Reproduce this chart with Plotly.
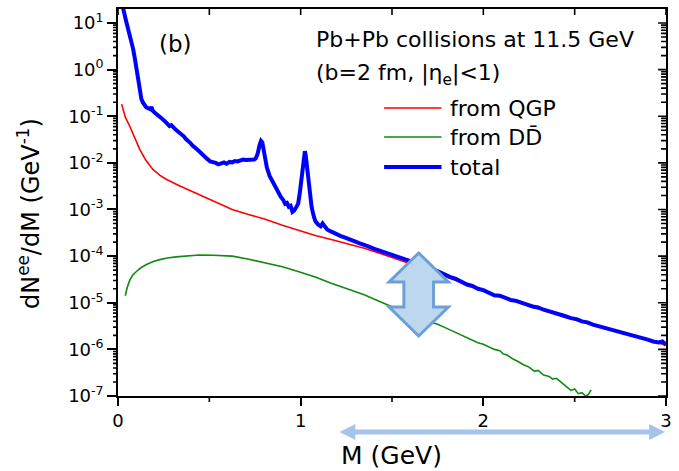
import math
import plotly.graph_objects as go

# ---------------- data: dielectron invariant-mass spectra ----------------
# M in GeV, values given as log10(dN/dM)
m_qgp = [0.02, 0.04, 0.065, 0.09, 0.119, 0.15, 0.191, 0.23, 0.264, 0.33, 0.40, 0.444,
         0.53, 0.625, 0.71, 0.806, 0.90, 0.986, 1.08, 1.167, 1.26, 1.348, 1.44, 1.528,
         1.62, 1.72, 1.80, 1.908, 2.0, 2.088, 2.18, 2.269, 2.36, 2.45, 2.54, 2.63,
         2.72, 2.81, 2.90, 3.0]
log_qgp = [-0.74, -1.02, -1.22, -1.46, -1.71, -1.93, -2.14, -2.27, -2.35, -2.48, -2.60, -2.68,
           -2.84, -3.00, -3.10, -3.21, -3.34, -3.45, -3.56, -3.645, -3.74, -3.83, -3.95, -4.06,
           -4.19, -4.33, -4.45, -4.62, -4.75, -4.87, -4.99, -5.09, -5.20, -5.30, -5.41, -5.52,
           -5.61, -5.70, -5.80, -5.91]

m_dd = [0.04, 0.05, 0.065, 0.08, 0.101, 0.125, 0.156, 0.19, 0.228, 0.27, 0.318, 0.38,
        0.444, 0.52, 0.625, 0.71, 0.806, 0.90, 0.986, 1.08, 1.167, 1.26, 1.348, 1.42,
        1.49, 1.55, 1.60, 1.65, 1.70, 1.75, 1.80, 1.85, 1.88, 1.91, 1.94, 1.97, 2.00,
        2.03, 2.06, 2.09, 2.11, 2.13, 2.16, 2.19, 2.22, 2.25, 2.28, 2.30, 2.33, 2.36,
        2.38, 2.40, 2.43, 2.46, 2.48, 2.50, 2.52, 2.54, 2.56, 2.575, 2.585, 2.59]
log_dd = [-4.85, -4.68, -4.51, -4.41, -4.33, -4.25, -4.18, -4.12, -4.075, -4.04, -4.017, -3.99,
          -3.975, -3.98, -4.00, -4.06, -4.14, -4.23, -4.33, -4.45, -4.58, -4.70, -4.83, -4.95,
          -5.07, -5.17, -5.23, -5.30, -5.40, -5.46, -5.55, -5.64, -5.70, -5.76, -5.80, -5.86, -5.89,
          -5.94, -6.00, -6.03, -6.10, -6.12, -6.20, -6.26, -6.33, -6.38, -6.47, -6.45, -6.55, -6.58,
          -6.64, -6.62, -6.72, -6.80, -6.88, -6.85, -6.95, -6.93, -7.00, -6.97, -6.90, -6.87]

m_tot = [0.02, 0.029, 0.042, 0.056, 0.07, 0.083, 0.093, 0.101, 0.108, 0.115, 0.122, 0.128,
         0.137, 0.146, 0.155, 0.165, 0.176, 0.183, 0.19, 0.20, 0.21, 0.225, 0.24, 0.255,
         0.27, 0.282, 0.292, 0.30, 0.309, 0.32, 0.336, 0.35, 0.36, 0.372, 0.385, 0.395,
         0.408, 0.42, 0.432, 0.444, 0.46, 0.475, 0.49, 0.505, 0.52, 0.535, 0.55, 0.565,
         0.58, 0.595, 0.61, 0.625, 0.64, 0.655, 0.67, 0.685, 0.70, 0.715, 0.73, 0.745,
         0.755, 0.765, 0.775, 0.783, 0.79, 0.797, 0.806, 0.815, 0.83, 0.845, 0.86, 0.875,
         0.89, 0.905, 0.915, 0.925, 0.935, 0.945, 0.955, 0.965, 0.975, 0.986, 0.995, 1.003,
         1.012, 1.018, 1.023, 1.028, 1.035, 1.042, 1.05, 1.06, 1.07, 1.08, 1.095, 1.11,
         1.12, 1.131, 1.145, 1.165, 1.18, 1.20, 1.22, 1.24, 1.257, 1.28, 1.30, 1.32,
         1.348, 1.37, 1.40, 1.43, 1.46, 1.49, 1.528, 1.55, 1.58, 1.61, 1.64, 1.67,
         1.70, 1.73, 1.76, 1.79, 1.82, 1.85, 1.88, 1.91, 1.94, 1.97, 2.00, 2.03,
         2.06, 2.09, 2.12, 2.15, 2.18, 2.21, 2.24, 2.27, 2.30, 2.33, 2.36, 2.39,
         2.42, 2.45, 2.48, 2.51, 2.54, 2.57, 2.60, 2.63, 2.66, 2.69, 2.72, 2.75,
         2.78, 2.81, 2.84, 2.87, 2.90, 2.93, 2.96, 2.98, 3.00]
log_tot = [1.60, 1.30, 1.08, 0.87, 0.66, 0.44, 0.22, 0.01, -0.20, -0.42, -0.55, -0.63,
           -0.71, -0.78, -0.81, -0.83, -0.85, -0.80, -0.88, -0.92, -0.96, -1.01, -1.05, -1.10,
           -1.16, -1.21, -1.19, -1.24, -1.26, -1.30, -1.35, -1.39, -1.43, -1.49, -1.53, -1.57,
           -1.63, -1.66, -1.71, -1.75, -1.80, -1.86, -1.92, -1.97, -1.98, -2.00, -2.03, -2.01,
           -1.99, -2.02, -1.98, -1.99, -1.96, -1.97, -1.95, -1.93, -1.94, -1.93, -1.92, -1.93,
           -1.90, -1.80, -1.62, -1.53, -1.56, -1.75, -1.96, -2.10, -2.28, -2.40, -2.52, -2.62,
           -2.72, -2.80, -2.88, -2.86, -2.94, -2.92, -3.05, -3.02, -2.96, -2.88, -2.65, -2.40,
           -2.05, -1.80, -1.75, -1.85, -2.10, -2.40, -2.70, -2.95, -3.12, -3.25, -3.32, -3.36,
           -3.30, -3.36, -3.43, -3.47, -3.50, -3.55, -3.57, -3.60, -3.62, -3.65, -3.69, -3.72,
           -3.75, -3.79, -3.84, -3.88, -3.92, -3.95, -3.99, -4.03, -4.07, -4.11, -4.16, -4.19,
           -4.24, -4.29, -4.35, -4.40, -4.45, -4.49, -4.55, -4.61, -4.64, -4.70, -4.73, -4.78,
           -4.84, -4.85, -4.90, -4.94, -4.96, -5.01, -5.04, -5.08, -5.10, -5.15, -5.18, -5.22,
           -5.24, -5.29, -5.33, -5.35, -5.40, -5.42, -5.47, -5.50, -5.53, -5.57, -5.59, -5.63,
           -5.66, -5.69, -5.72, -5.76, -5.79, -5.83, -5.85, -5.83, -5.90]

series_names = ["from QGP", "from DD\u0304", "total"]
series_colors = ["#ff0000", "#108a10", "#0000ff"]
series_widths = [1.6, 1.6, 4]

y_tickvals = [1e-7, 1e-6, 1e-5, 1e-4, 1e-3, 1e-2, 1e-1, 1e0, 1e1]
y_ticktext = ["10<sup>-7</sup>", "10<sup>-6</sup>", "10<sup>-5</sup>", "10<sup>-4</sup>",
              "10<sup>-3</sup>", "10<sup>-2</sup>", "10<sup>-1</sup>", "10<sup>0</sup>",
              "10<sup>1</sup>"]
x_tickvals = [0, 1, 2, 3]
x_halfticks = [0.5, 1.5, 2.5]
x_topticks = [0, 0.5, 1, 1.5, 2, 2.5, 3]

# ---------------- layout geometry (pixels) ----------------
W, H = 679, 471
ML, MR, MT, MB = 118, 7, 9, 75
PW, PH = W - ML - MR, H - MT - MB
FONT = "DejaVu Sans, Arial, sans-serif"
X_RANGE = [0, 3]
Y_RANGE = [-7, 1.3]

# minor log ticks: 2..9 within every decade inside the axis range
y_minor = [k * d for d in y_tickvals for k in range(2, 10)
           if math.log10(k * d) <= Y_RANGE[1]]


def px(x):
    return (x - ML) / PW


def py(y):
    return (H - MB - y) / PH


def path(points):
    return "M " + " L ".join(f"{px(a):.5f},{py(b):.5f}" for a, b in points) + " Z"


def xfrac(v):
    # axis value -> paper fraction along M
    return (v - X_RANGE[0]) / (X_RANGE[1] - X_RANGE[0])


def yfrac(v):
    # axis value -> paper fraction along the log axis
    return (math.log10(v) - Y_RANGE[0]) / (Y_RANGE[1] - Y_RANGE[0])


def hticks(vals, x_edge, length):
    # short horizontal tick segments at log-axis values (length in px, sign = direction)
    dx = length / PW
    return " ".join(f"M {x_edge:.5f},{yfrac(v):.5f} L {x_edge + dx:.5f},{yfrac(v):.5f}"
                    for v in vals)


def vticks(vals, y_edge, length):
    dy = length / PH
    return " ".join(f"M {xfrac(v):.5f},{y_edge:.5f} L {xfrac(v):.5f},{y_edge + dy:.5f}"
                    for v in vals)


fig = go.Figure()
curves = [(m_qgp, log_qgp), (m_dd, log_dd), (m_tot, log_tot)]
for (mx, ly), name, col, lw in zip(curves, series_names, series_colors, series_widths):
    fig.add_trace(go.Scatter(x=mx, y=[10 ** v for v in ly], mode="lines", name=name,
                             line=dict(color=col, width=lw), showlegend=False))

frame = dict(showgrid=False, zeroline=False, showline=True, mirror=True, linecolor="black",
             linewidth=1.6, tickcolor="black", tickwidth=1.6)

fig.update_layout(
    width=W, height=H,
    margin=dict(l=ML, r=MR, t=MT, b=MB, pad=0),
    paper_bgcolor="white", plot_bgcolor="white", showlegend=False,
    font=dict(family=FONT, color="black"),
    xaxis=dict(range=X_RANGE, tickmode="array", tickvals=x_tickvals, ticks="outside",
               ticklen=8, tickfont=dict(size=18), **frame),
    yaxis=dict(type="log", range=Y_RANGE, tickmode="array", tickvals=y_tickvals,
               ticktext=y_ticktext, ticks="outside", ticklen=9, tickfont=dict(size=18),
               **frame),
)

# extra frame ticks: minor log ticks (left out, right in), major right ticks (in),
# half-unit bottom ticks (out) and top ticks (in)
tick_paths = [
    (hticks(y_minor, 0.0, -5), 1.6),
    (hticks(y_minor, 1.0, -5), 1.6),
    (hticks(y_tickvals, 1.0, -8), 1.6),
    (vticks(x_halfticks, 0.0, -6), 1.6),
    (vticks(x_topticks, 1.0, -6), 1.6),
]
shapes = [dict(type="path", xref="paper", yref="paper", path=p, layer="above",
               line=dict(color="black", width=w)) for p, w in tick_paths]

annotations = [
    dict(text="(b)", x=px(176), y=py(44), xanchor="center", yanchor="middle", font=dict(size=23)),
    dict(text="Pb+Pb collisions at 11.5 GeV", x=px(316), y=py(39), xanchor="left",
         yanchor="middle", font=dict(size=22)),
    dict(text="(b=2 fm, |\u03b7<sub>e</sub>|<1)", x=px(316), y=py(75), xanchor="left",
         yanchor="middle", font=dict(size=22)),
    dict(text="dN<sup>ee</sup>/dM (GeV<sup>-1</sup>)", x=px(28), y=py(213), textangle=-90,
         xanchor="center", yanchor="middle", font=dict(size=24)),
    dict(text="M (GeV)", x=px(394), y=py(455), xanchor="center", yanchor="middle",
         font=dict(size=25)),
]

# legend drawn as line samples with labels
legend_rows = [108, 137, 167]
for name, col, lw, yrow in zip(series_names, series_colors, series_widths, legend_rows):
    shapes.append(dict(type="line", xref="paper", yref="paper", x0=px(387), x1=px(445),
                       y0=py(yrow), y1=py(yrow), line=dict(color=col, width=lw)))
    annotations.append(dict(text=name, x=px(452), y=py(yrow), xanchor="left",
                            yanchor="middle", font=dict(size=22)))

# double-headed horizontal arrow under the M axis
shapes.append(dict(type="path", xref="paper", yref="paper", layer="above",
                   path=path([(342, 432), (358, 424), (358, 429.5), (655, 429.5), (655, 424),
                              (671, 432), (655, 440), (655, 434.5), (358, 434.5), (358, 440)]),
                   fillcolor="#a6c3ea", line=dict(width=0)))

# double-headed block arrow between the QGP and charm curves
shapes.append(dict(type="path", xref="paper", yref="paper", layer="above",
                   path=path([(422, 253), (452, 282), (437, 282), (437, 307), (452, 307),
                              (422, 336), (392, 307), (407, 307), (407, 282), (392, 282)]),
                   fillcolor="#bdd7ee", line=dict(color="#6d9fd6", width=3)))

fig.update_layout(annotations=[dict(xref="paper", yref="paper", showarrow=False, **a)
                               for a in annotations],
                  shapes=shapes)

fig.write_html("out.html")
